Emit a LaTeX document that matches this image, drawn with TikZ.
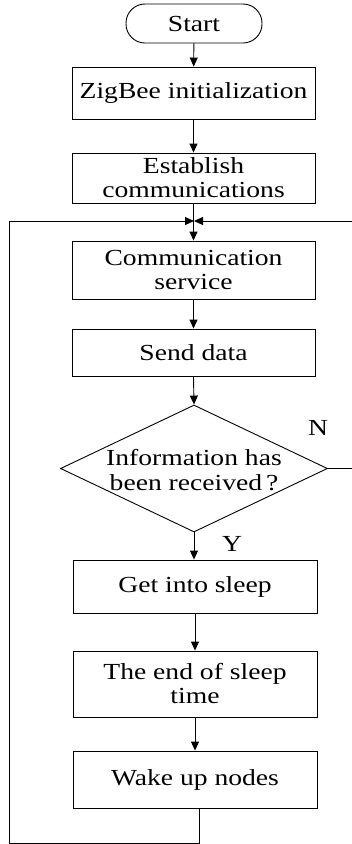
\documentclass[tikz,border=0pt]{standalone}
\usepackage{fontspec}
\setmainfont{Liberation Serif}[FakeStretch=1.2]
\usetikzlibrary{arrows.meta,shapes.geometric}
\begin{document}
\begin{tikzpicture}[x=1pt,y=1pt,
  every node/.style={font=\fontsize{23}{24}\selectfont},
  box/.style={draw, line width=0.9pt, inner sep=0pt, align=center},
  term/.style={draw, line width=0.9pt, rounded corners=19pt, inner sep=0pt},
  flow/.style={draw, line width=0.9pt, -{Triangle[length=9pt,width=8pt]}},
  plain/.style={draw, line width=0.9pt}
]
\useasboundingbox (0,0) rectangle (352,-844);
\node[term, minimum width=136pt, minimum height=39pt] (start) at (194,-23.5) {Start};
\node[box, minimum width=243pt, minimum height=52pt] (zig) at (193.5,-93) {ZigBee initialization};
\node[box, minimum width=243pt, minimum height=50pt] (est) at (193.5,-178) {Establish\\communications};
\node[box, minimum width=243pt, minimum height=58pt] (comm) at (193.5,-270) {Communication\\service};
\node[box, minimum width=243pt, minimum height=47pt] (send) at (193.5,-352.5) {Send data};
\node[draw, line width=0.9pt, diamond, inner sep=0pt, minimum width=267pt, minimum height=127pt] (dia) at (194,-468.5) {};
\node[align=center, font=\fontsize{23}{25}\selectfont] (diatext) at (194,-470) {Information has\\been received\,?};
\node[box, minimum width=244pt, minimum height=53pt] (sleep) at (195,-586.5) {Get into sleep};
\node[box, minimum width=244pt, minimum height=66pt] (endsleep) at (195,-684) {The end of sleep\\time};
\node[box, minimum width=244pt, minimum height=57pt] (wake) at (195,-779.5) {Wake up nodes};
\node (N) at (318,-428) {N};
\node (Y) at (232,-544) {Y};
\coordinate (J) at (194,-221);
\coordinate (L) at (9,-221);
\coordinate (R) at (352,-221);
\coordinate (B) at (199,-843);
\draw[flow] (start) -- (zig);
\draw[flow] (zig) -- (est);
\draw[flow] (est.south) -- (comm.north);
\draw[flow] (comm) -- (send);
\draw[flow] (send.south) -- (dia.north);
\draw[flow] (dia.south) -- (dia.south |- sleep.north);
\draw[flow] (sleep) -- (sleep |- endsleep.north);
\draw[flow] (endsleep) -- (endsleep |- wake.north);
\draw[flow] (wake.south -| B) -- (B) -| (L) -- (J);
\draw[flow] (dia.east) -- (R |- dia.east) -- (R) -- (J);
\end{tikzpicture}
\end{document}
